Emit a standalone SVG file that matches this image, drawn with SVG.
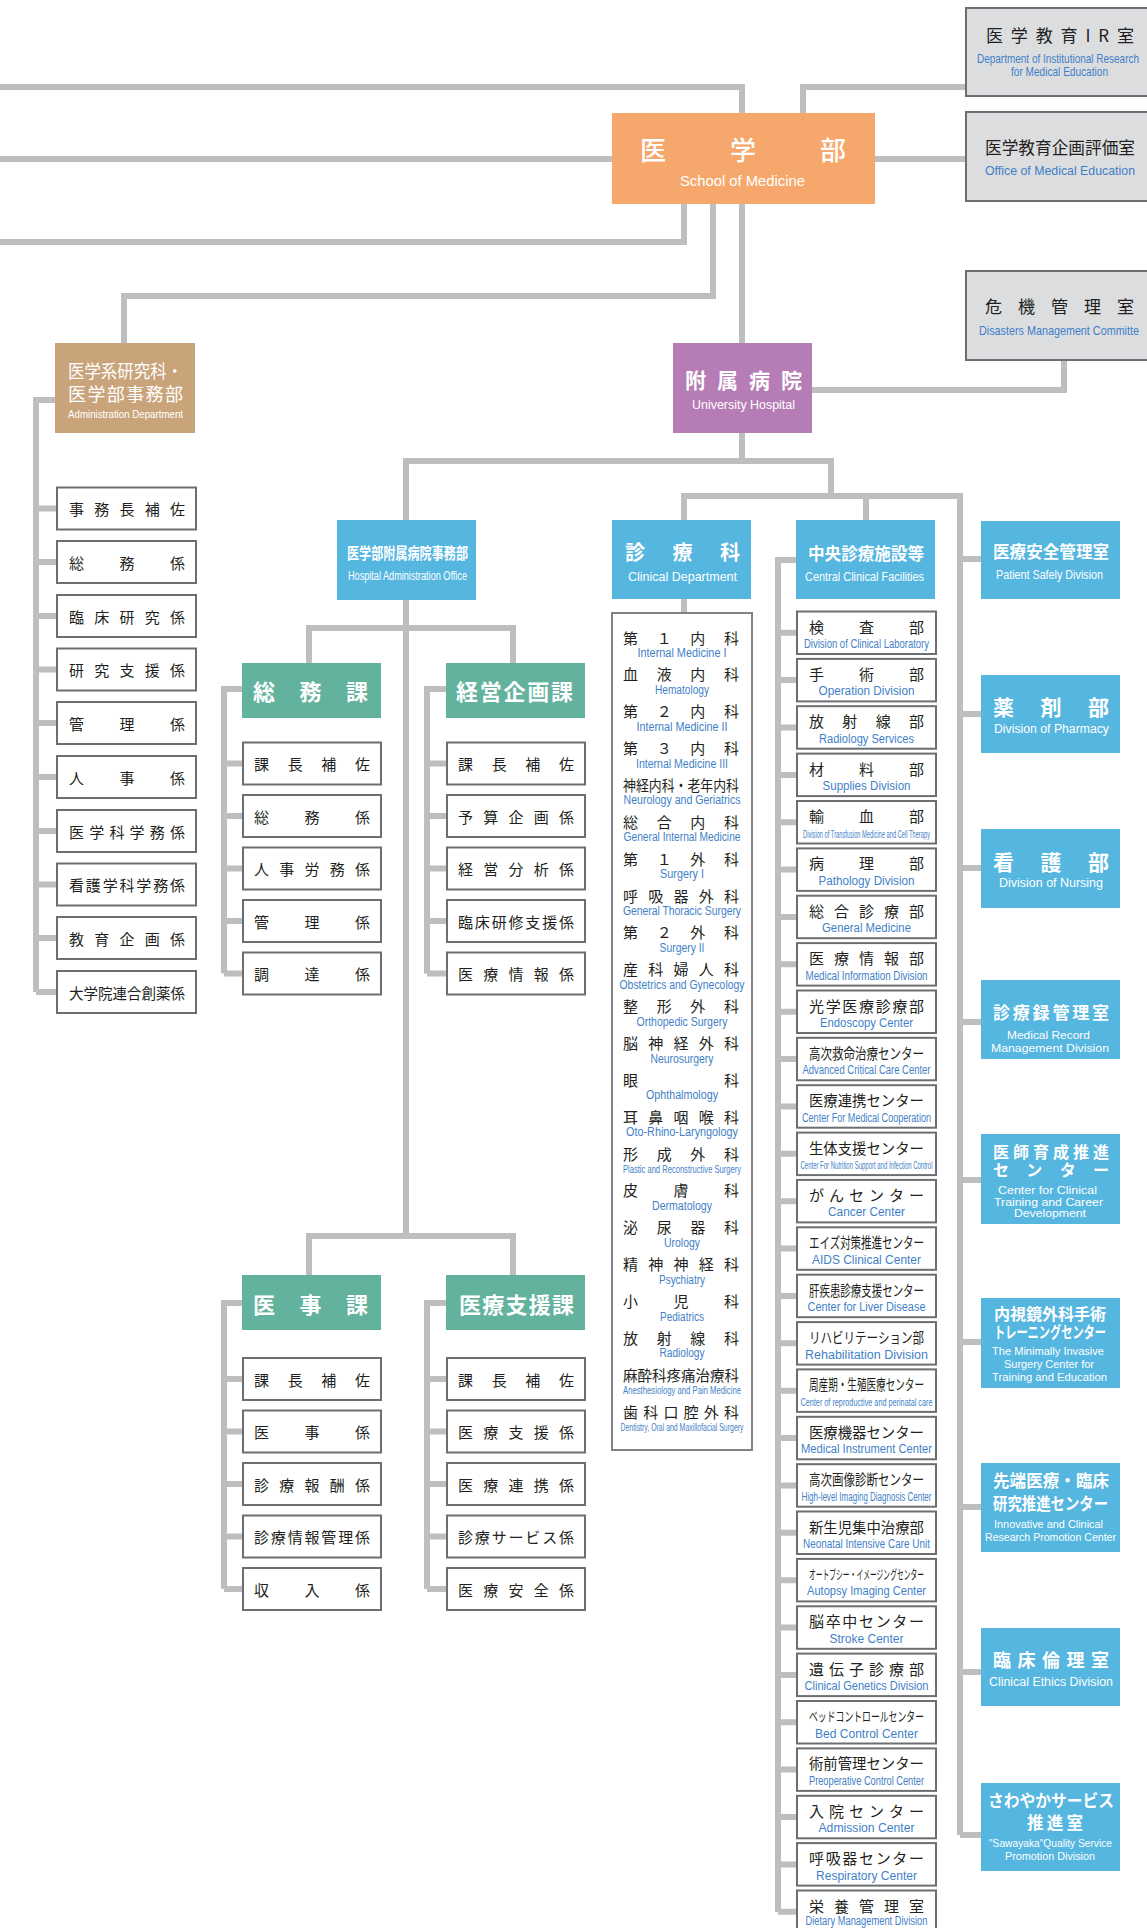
<svg xmlns="http://www.w3.org/2000/svg" width="1147" height="1928" viewBox="0 0 1147 1928">
<style>
.ln{fill:none;stroke:#bcbec0;stroke-width:6}
.bx{fill:#fff;stroke:#6d6e71;stroke-width:2}
.gb{fill:#dcdddf;stroke:#6d6e71;stroke-width:2}
.lb{fill:#fff;stroke:#808285;stroke-width:2}
.bl{fill:#55b6e0}
.gr{fill:#63b29d}
text{dominant-baseline:central}
.j{font-family:"Noto Sans CJK JP",sans-serif;font-size:15px;fill:#231f20}
.w{fill:#fff}
.b{font-weight:700}
.e{font-family:"Liberation Sans",Arial,sans-serif;fill:#3f7fc8;font-size:12.5px}
.ew{font-family:"Liberation Sans",Arial,sans-serif;fill:#fff;font-size:12px}
.m{font-size:10.5px}
</style>
<rect width="1147" height="1928" fill="#fff"/>
<g id="connectors" class="ln">
<path d="M0,87 H742 V113"/>
<path d="M965,87 H803 V113"/>
<path d="M0,159 H612"/>
<path d="M875,159 H965"/>
<path d="M684,204 V242 H0"/>
<path d="M713,204 V296 H124 V343"/>
<path d="M742,204 V343"/>
<path d="M812,390 H1064 V361"/>
<path d="M742,433 V461"/>
<path d="M406,520 V461 H831 V496"/>
<path d="M684,520 V496 H960 V1835"/>
<path d="M866,496 V520"/>
<path d="M684,599 V613"/>
<path d="M960,559 H981 M960,714 H981 M960,868 H981 M960,1022 H981 M960,1180 H981 M960,1342 H981 M960,1507 H981 M960,1672 H981 M960,1835 H981"/>
<path d="M796,560 H778 V1912"/>
<path d="M778,632.75 H797 M778,680.1 H797 M778,727.5 H797 M778,774.9 H797 M778,822.2 H797 M778,869.6 H797 M778,917 H797 M778,964.3 H797 M778,1011.7 H797 M778,1059.1 H797 M778,1106.5 H797 M778,1153.8 H797 M778,1201.2 H797 M778,1248.6 H797 M778,1295.9 H797 M778,1343.3 H797 M778,1390.7 H797 M778,1438.1 H797 M778,1485.4 H797 M778,1532.8 H797 M778,1580.2 H797 M778,1627.5 H797 M778,1674.9 H797 M778,1722.3 H797 M778,1769.6 H797 M778,1817 H797 M778,1864.4 H797 M778,1911.8 H797"/>
<path d="M406,600 V1236"/>
<path d="M309,663 V628 H513 V663"/>
<path d="M309,1275 V1236 H513 V1275"/>
<path d="M55,400 H36 V992"/>
<path d="M36,508.5 H57 M36,562 H57 M36,616 H57 M36,669.5 H57 M36,723 H57 M36,777 H57 M36,831 H57 M36,884.5 H57 M36,938 H57 M36,992 H57"/>
<path d="M242,689 H224 V973.5 M224,763.5 H243 M224,816 H243 M224,868.5 H243 M224,921 H243 M224,973.5 H243"/>
<path d="M446,689 H427 V973.5 M427,763.5 H447 M427,816 H447 M427,868.5 H447 M427,921 H447 M427,973.5 H447"/>
<path d="M242,1303 H224 V1589 M224,1379 H243 M224,1431.5 H243 M224,1484 H243 M224,1536.5 H243 M224,1589 H243"/>
<path d="M446,1303 H427 V1589 M427,1379 H447 M427,1431.5 H447 M427,1484 H447 M427,1536.5 H447 M427,1589 H447"/>
</g>

<g id="ir-office">
<rect class="gb" x="966" y="8" width="200" height="88"/>
<text class="j" x="986" y="34" style="font-size:17px" textLength="148">医学教育IR室</text>
<text class="e" x="977" y="58" style="font-size:13px" textLength="162" lengthAdjust="spacingAndGlyphs">Department of Institutional Research</text>
<text class="e" x="1011" y="71" style="font-size:13px" textLength="97" lengthAdjust="spacingAndGlyphs">for Medical Education</text>
</g>
<g id="med-edu-office">
<rect class="gb" x="966" y="112" width="200" height="89"/>
<text class="j" x="985" y="146" style="font-size:17px" textLength="150" lengthAdjust="spacingAndGlyphs">医学教育企画評価室</text>
<text class="e" x="985" y="170" style="font-size:13.5px" textLength="150" lengthAdjust="spacingAndGlyphs">Office of Medical Education</text>
</g>
<g id="disaster">
<rect class="gb" x="966" y="271" width="200" height="89"/>
<text class="j" x="985" y="305" style="font-size:17px" textLength="149">危機管理室</text>
<text class="e" x="979" y="330" style="font-size:13.5px" textLength="160" lengthAdjust="spacingAndGlyphs">Disasters Management Committe</text>
</g>
<g id="school">
<rect x="612" y="113" width="263" height="91" fill="#f6a86c"/>
<text class="j w" x="640" y="148" style="font-size:26px;font-weight:500" textLength="206">医学部</text>
<text class="ew" x="680" y="180" style="font-size:15px" textLength="125" lengthAdjust="spacingAndGlyphs">School of Medicine</text>
</g>
<g id="hospital">
<rect x="673" y="343" width="139" height="90" fill="#b67cb6"/>
<text class="j w b" x="685" y="379" style="font-size:21px" textLength="117">附属病院</text>
<text class="ew" x="692" y="404" style="font-size:13px" textLength="103" lengthAdjust="spacingAndGlyphs">University Hospital</text>
</g>
<g id="admin">
<rect x="55" y="343" width="140" height="90" fill="#c9a47b"/>
<text class="j w" x="68" y="370" style="font-size:18px" textLength="115" lengthAdjust="spacingAndGlyphs">医学系研究科・</text>
<text class="j w" x="68" y="393" style="font-size:18px" textLength="115">医学部事務部</text>
<text class="ew" x="68" y="414" style="font-size:11.5px" textLength="115" lengthAdjust="spacingAndGlyphs">Administration Department</text>
</g>
<g id="admin-children">
<rect class="bx" x="57" y="487.5" width="139" height="42"/><text class="j" x="69" y="508.5" textLength="116">事務長補佐</text>
<rect class="bx" x="57" y="541" width="139" height="42"/><text class="j" x="69" y="562" textLength="116">総務係</text>
<rect class="bx" x="57" y="595" width="139" height="42"/><text class="j" x="69" y="616" textLength="116">臨床研究係</text>
<rect class="bx" x="57" y="648.5" width="139" height="42"/><text class="j" x="69" y="669.5" textLength="116">研究支援係</text>
<rect class="bx" x="57" y="702" width="139" height="42"/><text class="j" x="69" y="723" textLength="116">管理係</text>
<rect class="bx" x="57" y="756" width="139" height="42"/><text class="j" x="69" y="777" textLength="116">人事係</text>
<rect class="bx" x="57" y="810" width="139" height="42"/><text class="j" x="69" y="831" textLength="116">医学科学務係</text>
<rect class="bx" x="57" y="863.5" width="139" height="42"/><text class="j" x="69" y="884.5" textLength="116">看護学科学務係</text>
<rect class="bx" x="57" y="917" width="139" height="42"/><text class="j" x="69" y="938" textLength="116">教育企画係</text>
<rect class="bx" x="57" y="971" width="139" height="42"/><text class="j" x="69" y="992" textLength="116" lengthAdjust="spacingAndGlyphs">大学院連合創薬係</text>
</g>
<g id="hosp-admin">
<rect class="bl" x="337" y="520" width="139" height="80"/>
<text class="j w b" x="347" y="552" style="font-size:16px" textLength="121" lengthAdjust="spacingAndGlyphs">医学部附属病院事務部</text>
<text class="ew" x="348" y="576" style="font-size:12.5px" textLength="119" lengthAdjust="spacingAndGlyphs">Hospital Administration Office</text>
</g>
<g id="somu">
<rect class="gr" x="242" y="663" width="139" height="55"/>
<text class="j w b" x="253" y="690" style="font-size:22px" textLength="115">総務課</text>
<rect class="bx" x="243" y="742.5" width="138" height="42"/><text class="j" x="254" y="763.5" textLength="116">課長補佐</text>
<rect class="bx" x="243" y="795" width="138" height="42"/><text class="j" x="254" y="816" textLength="116">総務係</text>
<rect class="bx" x="243" y="847.5" width="138" height="42"/><text class="j" x="254" y="868.5" textLength="116">人事労務係</text>
<rect class="bx" x="243" y="900" width="138" height="42"/><text class="j" x="254" y="921" textLength="116">管理係</text>
<rect class="bx" x="243" y="952.5" width="138" height="42"/><text class="j" x="254" y="973.5" textLength="116">調達係</text>
</g>
<g id="keiei">
<rect class="gr" x="446" y="663" width="139" height="55"/>
<text class="j w b" x="456" y="690" style="font-size:22px" textLength="117">経営企画課</text>
<rect class="bx" x="447" y="742.5" width="138" height="42"/><text class="j" x="458" y="763.5" textLength="116">課長補佐</text>
<rect class="bx" x="447" y="795" width="138" height="42"/><text class="j" x="458" y="816" textLength="116">予算企画係</text>
<rect class="bx" x="447" y="847.5" width="138" height="42"/><text class="j" x="458" y="868.5" textLength="116">経営分析係</text>
<rect class="bx" x="447" y="900" width="138" height="42"/><text class="j" x="458" y="921" textLength="116">臨床研修支援係</text>
<rect class="bx" x="447" y="952.5" width="138" height="42"/><text class="j" x="458" y="973.5" textLength="116">医療情報係</text>
</g>
<g id="iji">
<rect class="gr" x="242" y="1275" width="139" height="55"/>
<text class="j w b" x="253" y="1303" style="font-size:22px" textLength="115">医事課</text>
<rect class="bx" x="243" y="1358" width="138" height="42"/><text class="j" x="254" y="1379" textLength="116">課長補佐</text>
<rect class="bx" x="243" y="1410.5" width="138" height="42"/><text class="j" x="254" y="1431.5" textLength="116">医事係</text>
<rect class="bx" x="243" y="1463" width="138" height="42"/><text class="j" x="254" y="1484" textLength="116">診療報酬係</text>
<rect class="bx" x="243" y="1515.5" width="138" height="42"/><text class="j" x="254" y="1536.5" textLength="116">診療情報管理係</text>
<rect class="bx" x="243" y="1568" width="138" height="42"/><text class="j" x="254" y="1589" textLength="116">収入係</text>
</g>
<g id="iryoshien">
<rect class="gr" x="446" y="1275" width="139" height="55"/>
<text class="j w b" x="459" y="1303" style="font-size:22px" textLength="115">医療支援課</text>
<rect class="bx" x="447" y="1358" width="138" height="42"/><text class="j" x="458" y="1379" textLength="116">課長補佐</text>
<rect class="bx" x="447" y="1410.5" width="138" height="42"/><text class="j" x="458" y="1431.5" textLength="116">医療支援係</text>
<rect class="bx" x="447" y="1463" width="138" height="42"/><text class="j" x="458" y="1484" textLength="116">医療連携係</text>
<rect class="bx" x="447" y="1515.5" width="138" height="42"/><text class="j" x="458" y="1536.5" textLength="116">診療サービス係</text>
<rect class="bx" x="447" y="1568" width="138" height="42"/><text class="j" x="458" y="1589" textLength="116">医療安全係</text>
</g>
<g id="clinical">
<rect class="bl" x="612" y="520" width="139" height="79"/>
<text class="j w b" x="625" y="551" style="font-size:20px" textLength="115">診療科</text>
<text class="ew" x="628" y="576" style="font-size:13.5px" textLength="109" lengthAdjust="spacingAndGlyphs">Clinical Department</text>
<rect class="lb" x="612" y="613" width="140" height="837"/>
<g class="j">
<text x="623" y="637" textLength="116">第１内科</text>
<text x="623" y="673.9" textLength="116">血液内科</text>
<text x="623" y="710.7" textLength="116">第２内科</text>
<text x="623" y="747.6" textLength="116">第３内科</text>
<text x="623" y="784.4" textLength="116" lengthAdjust="spacingAndGlyphs">神経内科・老年内科</text>
<text x="623" y="821.3" textLength="116">総合内科</text>
<text x="623" y="858.2" textLength="116">第１外科</text>
<text x="623" y="895" textLength="116">呼吸器外科</text>
<text x="623" y="931.9" textLength="116">第２外科</text>
<text x="623" y="968.7" textLength="116">産科婦人科</text>
<text x="623" y="1005.6" textLength="116">整形外科</text>
<text x="623" y="1042.5" textLength="116">脳神経外科</text>
<text x="623" y="1079.3" textLength="116">眼科</text>
<text x="623" y="1116.2" textLength="116">耳鼻咽喉科</text>
<text x="623" y="1153" textLength="116">形成外科</text>
<text x="623" y="1189.9" textLength="116">皮膚科</text>
<text x="623" y="1226.8" textLength="116">泌尿器科</text>
<text x="623" y="1263.6" textLength="116">精神神経科</text>
<text x="623" y="1300.5" textLength="116">小児科</text>
<text x="623" y="1337.3" textLength="116">放射線科</text>
<text x="623" y="1374.2" textLength="116" lengthAdjust="spacingAndGlyphs">麻酔科疼痛治療科</text>
<text x="623" y="1411.1" textLength="116">歯科口腔外科</text>
</g>
<g class="e">
<text x="637.5" y="653" textLength="89" lengthAdjust="spacingAndGlyphs">Internal Medicine I</text>
<text x="655" y="689.9" textLength="54" lengthAdjust="spacingAndGlyphs">Hematology</text>
<text x="636.5" y="726.7" textLength="91" lengthAdjust="spacingAndGlyphs">Internal Medicine II</text>
<text x="636" y="763.6" textLength="92" lengthAdjust="spacingAndGlyphs">Internal Medicine III</text>
<text x="623.5" y="800.4" textLength="117" lengthAdjust="spacingAndGlyphs">Neurology and Geriatrics</text>
<text x="623.5" y="837.3" textLength="117" lengthAdjust="spacingAndGlyphs">General Internal Medicine</text>
<text x="660" y="874.2" textLength="44" lengthAdjust="spacingAndGlyphs">Surgery I</text>
<text x="623" y="911" textLength="118" lengthAdjust="spacingAndGlyphs">General Thoracic Surgery</text>
<text x="659.5" y="947.9" textLength="45" lengthAdjust="spacingAndGlyphs">Surgery II</text>
<text x="619.5" y="984.7" textLength="125" lengthAdjust="spacingAndGlyphs">Obstetrics and Gynecology</text>
<text x="636.5" y="1021.6" textLength="91" lengthAdjust="spacingAndGlyphs">Orthopedic Surgery</text>
<text x="650.5" y="1058.5" textLength="63" lengthAdjust="spacingAndGlyphs">Neurosurgery</text>
<text x="646" y="1095.3" textLength="72" lengthAdjust="spacingAndGlyphs">Ophthalmology</text>
<text x="626" y="1132.2" textLength="112" lengthAdjust="spacingAndGlyphs">Oto-Rhino-Laryngology</text>
<text x="623" y="1169" style="font-size:11.5px" textLength="118" lengthAdjust="spacingAndGlyphs">Plastic and Reconstructive Surgery</text>
<text x="652" y="1205.9" textLength="60" lengthAdjust="spacingAndGlyphs">Dermatology</text>
<text x="664" y="1242.8" textLength="36" lengthAdjust="spacingAndGlyphs">Urology</text>
<text x="659" y="1279.6" textLength="46" lengthAdjust="spacingAndGlyphs">Psychiatry</text>
<text x="660" y="1316.5" textLength="44" lengthAdjust="spacingAndGlyphs">Pediatrics</text>
<text x="659.5" y="1353.3" textLength="45" lengthAdjust="spacingAndGlyphs">Radiology</text>
<text x="623" y="1390.2" style="font-size:11.5px" textLength="118" lengthAdjust="spacingAndGlyphs">Anesthesiology and Pain Medicine</text>
<text x="620.5" y="1427.1" style="font-size:11.5px" textLength="123" lengthAdjust="spacingAndGlyphs">Dentistry, Oral and Maxillofacial Surgery</text>
</g>
</g>
<g id="central">
<rect class="bl" x="796" y="520" width="139" height="79"/>
<text class="j w b" x="808" y="552" style="font-size:17px" textLength="116" lengthAdjust="spacingAndGlyphs">中央診療施設等</text>
<text class="ew" x="805" y="576" style="font-size:13.5px" textLength="119" lengthAdjust="spacingAndGlyphs">Central Clinical Facilities</text>
<g class="bx">
<rect x="797" y="611.5" width="139" height="42.5"/><rect x="797" y="658.9" width="139" height="42.5"/><rect x="797" y="706.2" width="139" height="42.5"/><rect x="797" y="753.6" width="139" height="42.5"/><rect x="797" y="801" width="139" height="42.5"/><rect x="797" y="848.4" width="139" height="42.5"/><rect x="797" y="895.7" width="139" height="42.5"/><rect x="797" y="943.1" width="139" height="42.5"/><rect x="797" y="990.5" width="139" height="42.5"/><rect x="797" y="1037.8" width="139" height="42.5"/><rect x="797" y="1085.2" width="139" height="42.5"/><rect x="797" y="1132.6" width="139" height="42.5"/><rect x="797" y="1179.9" width="139" height="42.5"/><rect x="797" y="1227.3" width="139" height="42.5"/><rect x="797" y="1274.7" width="139" height="42.5"/><rect x="797" y="1322.1" width="139" height="42.5"/><rect x="797" y="1369.4" width="139" height="42.5"/><rect x="797" y="1416.8" width="139" height="42.5"/><rect x="797" y="1464.2" width="139" height="42.5"/><rect x="797" y="1511.5" width="139" height="42.5"/><rect x="797" y="1558.9" width="139" height="42.5"/><rect x="797" y="1606.3" width="139" height="42.5"/><rect x="797" y="1653.6" width="139" height="42.5"/><rect x="797" y="1701" width="139" height="42.5"/><rect x="797" y="1748.4" width="139" height="42.5"/><rect x="797" y="1795.8" width="139" height="42.5"/><rect x="797" y="1843.1" width="139" height="42.5"/><rect x="797" y="1890.5" width="139" height="42.5"/>
</g>
<g class="j">
<text x="809" y="626" textLength="115">検査部</text>
<text x="809" y="673.4" textLength="115">手術部</text>
<text x="809" y="720.7" textLength="115">放射線部</text>
<text x="809" y="768.1" textLength="115">材料部</text>
<text x="809" y="815.5" textLength="115">輸血部</text>
<text x="809" y="862.9" textLength="115">病理部</text>
<text x="809" y="910.2" textLength="115">総合診療部</text>
<text x="809" y="957.6" textLength="115">医療情報部</text>
<text x="809" y="1005" textLength="115">光学医療診療部</text>
<text x="809" y="1052.3" textLength="115" lengthAdjust="spacingAndGlyphs">高次救命治療センター</text>
<text x="809" y="1099.7" textLength="115" lengthAdjust="spacingAndGlyphs">医療連携センター</text>
<text x="809" y="1147.1" textLength="115" lengthAdjust="spacingAndGlyphs">生体支援センター</text>
<text x="809" y="1194.4" textLength="115">がんセンター</text>
<text x="809" y="1241.8" textLength="115" lengthAdjust="spacingAndGlyphs">エイズ対策推進センター</text>
<text x="809" y="1289.2" textLength="115" lengthAdjust="spacingAndGlyphs">肝疾患診療支援センター</text>
<text x="809" y="1336.6" textLength="115" lengthAdjust="spacingAndGlyphs">リハビリテーション部</text>
<text x="809" y="1383.9" textLength="115" lengthAdjust="spacingAndGlyphs">周産期・生殖医療センター</text>
<text x="809" y="1431.3" textLength="115" lengthAdjust="spacingAndGlyphs">医療機器センター</text>
<text x="809" y="1478.7" textLength="115" lengthAdjust="spacingAndGlyphs">高次画像診断センター</text>
<text x="809" y="1526" textLength="115" lengthAdjust="spacingAndGlyphs">新生児集中治療部</text>
<text x="809" y="1573.4" style="font-size:13px" textLength="115" lengthAdjust="spacingAndGlyphs">オートプシー・イメージングセンター</text>
<text x="809" y="1620.8" textLength="115">脳卒中センター</text>
<text x="809" y="1668.1" textLength="115">遺伝子診療部</text>
<text x="809" y="1715.5" style="font-size:13px" textLength="115" lengthAdjust="spacingAndGlyphs">ベッドコントロールセンター</text>
<text x="809" y="1762.9" textLength="115" lengthAdjust="spacingAndGlyphs">術前管理センター</text>
<text x="809" y="1810.3" textLength="115">入院センター</text>
<text x="809" y="1857.6" textLength="115">呼吸器センター</text>
<text x="809" y="1905" textLength="115">栄養管理室</text>
</g>
<g class="e">
<text x="804" y="644" textLength="125" lengthAdjust="spacingAndGlyphs">Division of Clinical Laboratory</text>
<text x="818.5" y="691.4" textLength="96" lengthAdjust="spacingAndGlyphs">Operation Division</text>
<text x="819" y="738.7" textLength="95" lengthAdjust="spacingAndGlyphs">Radiology Services</text>
<text x="822.5" y="786.1" textLength="88" lengthAdjust="spacingAndGlyphs">Supplies Division</text>
<text x="803" y="833.5" style="font-size:11px" textLength="127" lengthAdjust="spacingAndGlyphs">Division of Transfusion Medicine and Cell Therapy</text>
<text x="818.5" y="880.9" textLength="96" lengthAdjust="spacingAndGlyphs">Pathology Division</text>
<text x="822" y="928.2" textLength="89" lengthAdjust="spacingAndGlyphs">General Medicine</text>
<text x="805.5" y="975.6" textLength="122" lengthAdjust="spacingAndGlyphs">Medical Information Division</text>
<text x="820" y="1023" textLength="93" lengthAdjust="spacingAndGlyphs">Endoscopy Center</text>
<text x="802.5" y="1070.3" textLength="128" lengthAdjust="spacingAndGlyphs">Advanced Critical Care Center</text>
<text x="802" y="1117.7" textLength="129" lengthAdjust="spacingAndGlyphs">Center For Medical Cooperation</text>
<text x="800.5" y="1165.1" style="font-size:11px" textLength="132" lengthAdjust="spacingAndGlyphs">Center For Nutrition Support and Infection Control</text>
<text x="828" y="1212.4" textLength="77" lengthAdjust="spacingAndGlyphs">Cancer Center</text>
<text x="812" y="1259.8" textLength="109" lengthAdjust="spacingAndGlyphs">AIDS Clinical Center</text>
<text x="807.5" y="1307.2" textLength="118" lengthAdjust="spacingAndGlyphs">Center for Liver Disease</text>
<text x="805" y="1354.6" textLength="123" lengthAdjust="spacingAndGlyphs">Rehabilitation Division</text>
<text x="800.5" y="1401.9" style="font-size:11.5px" textLength="132" lengthAdjust="spacingAndGlyphs">Center of reproductive and perinatal care</text>
<text x="801" y="1449.3" textLength="131" lengthAdjust="spacingAndGlyphs">Medical Instrument Center</text>
<text x="801.5" y="1496.7" style="font-size:12px" textLength="130" lengthAdjust="spacingAndGlyphs">High-level Imaging Diagnosis Center</text>
<text x="803" y="1544" textLength="127" lengthAdjust="spacingAndGlyphs">Neonatal Intensive Care Unit</text>
<text x="807" y="1591.4" textLength="119" lengthAdjust="spacingAndGlyphs">Autopsy Imaging Center</text>
<text x="829.5" y="1638.8" textLength="74" lengthAdjust="spacingAndGlyphs">Stroke Center</text>
<text x="804.5" y="1686.1" textLength="124" lengthAdjust="spacingAndGlyphs">Clinical Genetics Division</text>
<text x="815" y="1733.5" textLength="103" lengthAdjust="spacingAndGlyphs">Bed Control Center</text>
<text x="809" y="1780.9" textLength="115" lengthAdjust="spacingAndGlyphs">Preoperative Control Center</text>
<text x="818.5" y="1828.3" textLength="96" lengthAdjust="spacingAndGlyphs">Admission Center</text>
<text x="816" y="1875.6" textLength="101" lengthAdjust="spacingAndGlyphs">Respiratory Center</text>
<text x="805.5" y="1921" textLength="122" lengthAdjust="spacingAndGlyphs">Dietary Management Division</text>
</g>
</g>
<g id="patient-safety">
<rect class="bl" x="981" y="521" width="139" height="78"/>
<text class="j w b" x="993" y="551" style="font-size:16.5px" textLength="116">医療安全管理室</text>
<text class="ew" x="996" y="575" textLength="107" lengthAdjust="spacingAndGlyphs">Patient Safely Division</text>
</g>
<g id="pharmacy">
<rect class="bl" x="981" y="675" width="139" height="78"/>
<text class="j w b" x="993" y="706" style="font-size:21px" textLength="116">薬剤部</text>
<text class="ew" x="994" y="729" textLength="115" lengthAdjust="spacingAndGlyphs">Division of Pharmacy</text>
</g>
<g id="nursing">
<rect class="bl" x="981" y="829" width="139" height="79"/>
<text class="j w b" x="993" y="861" style="font-size:21px" textLength="116">看護部</text>
<text class="ew" x="999" y="883" textLength="104" lengthAdjust="spacingAndGlyphs">Division of Nursing</text>
</g>
<g id="records">
<rect class="bl" x="981" y="980" width="139" height="79"/>
<text class="j w b" x="993" y="1011" style="font-size:17px" textLength="116">診療録管理室</text>
<text class="ew m" x="1007" y="1035" textLength="83" lengthAdjust="spacingAndGlyphs">Medical Record</text>
<text class="ew m" x="991" y="1048" textLength="118" lengthAdjust="spacingAndGlyphs">Management Division</text>
</g>
<g id="training">
<rect class="bl" x="981" y="1134" width="139" height="90"/>
<text class="j w b" x="993" y="1151" style="font-size:16px" textLength="116">医師育成推進</text>
<text class="j w b" x="993" y="1169" style="font-size:16px" textLength="116">センター</text>
<text class="ew m" x="998" y="1190" textLength="99" lengthAdjust="spacingAndGlyphs">Center for Clinical</text>
<text class="ew m" x="994" y="1201.5" textLength="109" lengthAdjust="spacingAndGlyphs">Training and Career</text>
<text class="ew m" x="1014" y="1213" textLength="72" lengthAdjust="spacingAndGlyphs">Development</text>
</g>
<g id="mis">
<rect class="bl" x="981" y="1298" width="139" height="90"/>
<text class="j w b" x="994" y="1313" style="font-size:16px" textLength="112">内視鏡外科手術</text>
<text class="j w b" x="994" y="1331" style="font-size:16px" textLength="112" lengthAdjust="spacingAndGlyphs">トレーニングセンター</text>
<text class="ew m" x="992" y="1351" textLength="112" lengthAdjust="spacingAndGlyphs">The Minimally Invasive</text>
<text class="ew m" x="1004" y="1364" textLength="90" lengthAdjust="spacingAndGlyphs">Surgery Center for</text>
<text class="ew m" x="992" y="1377" textLength="115" lengthAdjust="spacingAndGlyphs">Training and Education</text>
</g>
<g id="innovative">
<rect class="bl" x="981" y="1463" width="139" height="89"/>
<text class="j w b" x="993" y="1480" style="font-size:16.5px" textLength="116">先端医療・臨床</text>
<text class="j w b" x="993" y="1503" style="font-size:16.5px" textLength="115" lengthAdjust="spacingAndGlyphs">研究推進センター</text>
<text class="ew m" x="994" y="1524" textLength="109" lengthAdjust="spacingAndGlyphs">Innovative and Clinical</text>
<text class="ew m" x="985" y="1537" textLength="131" lengthAdjust="spacingAndGlyphs">Research Promotion Center</text>
</g>
<g id="ethics">
<rect class="bl" x="981" y="1628" width="139" height="78"/>
<text class="j w b" x="993" y="1659" style="font-size:18px" textLength="116">臨床倫理室</text>
<text class="ew" x="989" y="1682" textLength="124" lengthAdjust="spacingAndGlyphs">Clinical Ethics Division</text>
</g>
<g id="sawayaka">
<rect class="bl" x="981" y="1783" width="139" height="88"/>
<text class="j w b" x="988" y="1800" style="font-size:16.5px" textLength="126" lengthAdjust="spacingAndGlyphs">さわやかサービス</text>
<text class="j w b" x="1027" y="1822" style="font-size:16.5px" textLength="56">推進室</text>
<text class="ew m" x="989" y="1843" textLength="123" lengthAdjust="spacingAndGlyphs">"Sawayaka"Quality Service</text>
<text class="ew m" x="1005" y="1856" textLength="90" lengthAdjust="spacingAndGlyphs">Promotion Division</text>
</g>
</svg>
